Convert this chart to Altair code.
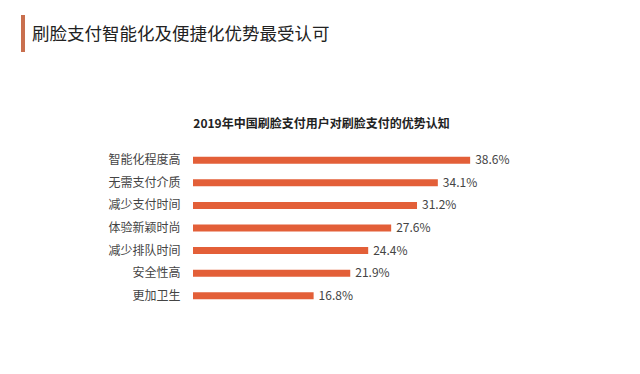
import altair as alt
import pandas as pd

categories = ["智能化程度高", "无需支付介质", "减少支付时间", "体验新颖时尚", "减少排队时间", "安全性高", "更加卫生"]
values = [38.6, 34.1, 31.2, 27.6, 24.4, 21.9, 16.8]

heading = "刷脸支付智能化及便捷化优势最受认可"
subtitle = "2019年中国刷脸支付用户对刷脸支付的优势认知"

df = pd.DataFrame({"cat": categories, "value": values})

FONT = "Noto Sans CJK SC"
BAR = "#e35f38"

y_enc = alt.Y(
    "cat:N",
    sort=categories,
    scale=alt.Scale(paddingInner=0, paddingOuter=0),
    axis=alt.Axis(
        title=None, ticks=False, domain=False, labelPadding=13,
        labelFontSize=12, labelColor="#444444", labelFont=FONT, grid=False,
    ),
)
x_enc = alt.X(
    "value:Q",
    scale=alt.Scale(domain=[0, 50], nice=False),
    axis=alt.Axis(
        orient="top", labels=False, ticks=False, domain=False, grid=False,
        title=subtitle, titleFont=FONT, titleFontSize=12, titleFontWeight="bold",
        titleColor="#222222", titleX=128, titleY=-26, titleAlign="center",
        titleBaseline="middle", titleAnchor="start",
    ),
)

bars = alt.Chart(df).mark_bar(size=7, color=BAR).encode(x=x_enc, y=y_enc)

labels = alt.Chart(df).transform_calculate(
    label="format(datum.value, '.1f') + '%'"
).mark_text(align="left", baseline="middle", dx=5, fontSize=12, font=FONT, color="#444444").encode(
    x="value:Q", y=alt.Y("cat:N", sort=categories), text="label:N"
)

accent = alt.Chart(alt.Data(values=[{"a": 1}])).mark_rule(
    strokeWidth=4, color="#c96f4e", strokeCap="butt"
).encode(x=alt.value(-170), y=alt.value(-134), y2=alt.value(-97))

head = alt.Chart(alt.Data(values=[{"t": heading}])).mark_text(
    align="left", baseline="middle", fontSize=17.5, font=FONT, fontWeight="normal", color="#222222"
).encode(x=alt.value(-161), y=alt.value(-114), text="t:N")

chart = alt.layer(bars, labels, accent, head).properties(
    width=359,
    height=158,
    autosize=alt.AutoSizeParams(type="none"),
    padding={"left": 185, "top": 141, "right": 80, "bottom": 59},
    background="white",
).configure_view(stroke=None)

chart.save("out.html", embed_options={"renderer": "svg", "actions": False})
